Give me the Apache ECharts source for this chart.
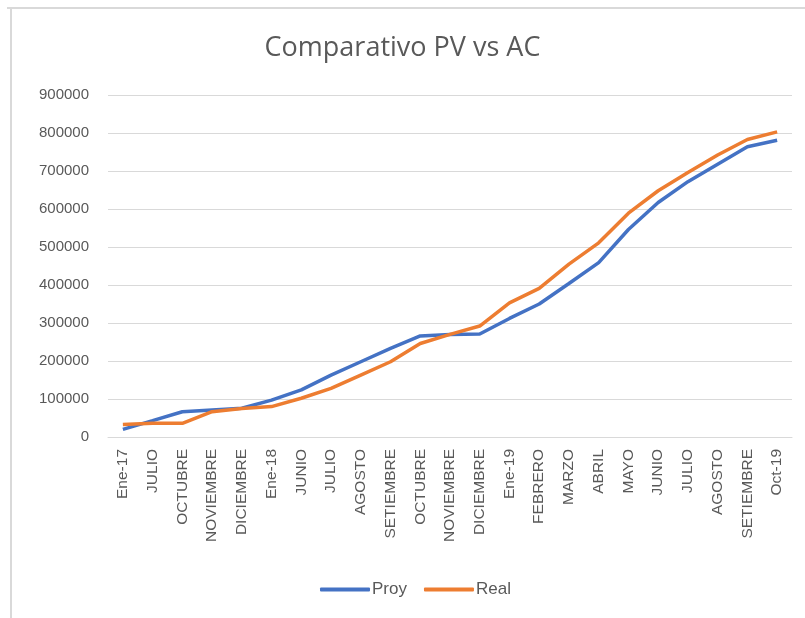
<!DOCTYPE html>
<html>
<head>
<meta charset="utf-8">
<script src="https://cdn.jsdelivr.net/npm/echarts@6/dist/echarts.min.js"></script>
<style>
  html, body { margin: 0; padding: 0; background: #fff; }
  #chart { width: 805px; height: 618px; }
</style>
</head>
<body>
<div id="chart"></div>
<script>
const meses = ['Ene-17', 'JULIO', 'OCTUBRE', 'NOVIEMBRE', 'DICIEMBRE', 'Ene-18', 'JUNIO', 'JULIO',
  'AGOSTO', 'SETIEMBRE', 'OCTUBRE', 'NOVIEMBRE', 'DICIEMBRE', 'Ene-19', 'FEBRERO', 'MARZO',
  'ABRIL', 'MAYO', 'JUNIO', 'JULIO', 'AGOSTO', 'SETIEMBRE', 'Oct-19']
const proy = [20000, 43000, 66500, 71000, 75500, 97000, 124000, 163000, 198000, 233000, 266000,
  270000, 271000, 312000, 350000, 404000, 459000, 546000, 617000, 672000, 718000, 764000, 781000]
const real = [33000, 36000, 36000, 66500, 75000, 80000, 102000, 128000, 163000, 198000, 246000,
  270000, 292000, 353000, 391000, 455000, 511000, 589000, 648000, 696000, 742000, 783000, 803000]

const titleFont = 'Open Sans'
const font = 'Liberation Sans'
const chart = echarts.init(document.getElementById('chart'))
chart.setOption({
  animation: false,
  color: ['#4472C4', '#ED7D31'],
  title: {
    text: 'Comparativo PV vs AC',
    left: 'center',
    top: 30,
    textStyle: { fontFamily: titleFont, fontSize: 27, fontWeight: 'normal', color: '#595959' }
  },
  graphic: [
    { type: 'line', shape: { x1: 7, y1: 8, x2: 805, y2: 8 }, style: { stroke: '#d9d9d9', lineWidth: 2 } },
    { type: 'line', shape: { x1: 11, y1: 8, x2: 11, y2: 618 }, style: { stroke: '#d9d9d9', lineWidth: 2 } }
  ],
  legend: {
    bottom: 15,
    left: 315,
    itemWidth: 50,
    itemHeight: 4,
    itemGap: 17,
    icon: 'roundRect',
    textStyle: { fontFamily: font, fontSize: 17, color: '#595959', padding: [0, 0, 0, -3] },
    data: ['Proy', 'Real']
  },
  grid: { left: 108, right: 13, top: 95, bottom: 181 },
  xAxis: {
    type: 'category',
    data: meses,
    boundaryGap: true,
    axisLine: { lineStyle: { color: '#d9d9d9' } },
    axisTick: { show: false },
    axisLabel: {
      rotate: 90,
      interval: 0,
      margin: 12,
      fontFamily: font,
      fontSize: 15.5,
      color: '#595959'
    }
  },
  yAxis: {
    type: 'value',
    min: 0,
    max: 900000,
    interval: 100000,
    axisLine: { show: false },
    axisTick: { show: false },
    splitLine: { lineStyle: { color: '#d9d9d9', width: 1 } },
    axisLabel: {
      margin: 19,
      fontFamily: font,
      fontSize: 15,
      color: '#595959',
      formatter: (v) => String(v)
    }
  },
  series: [
    { name: 'Proy', type: 'line', data: proy, symbol: 'none', lineStyle: { width: 3.5 } },
    { name: 'Real', type: 'line', data: real, symbol: 'none', lineStyle: { width: 3.5 } }
  ]
})
</script>
</body>
</html>
